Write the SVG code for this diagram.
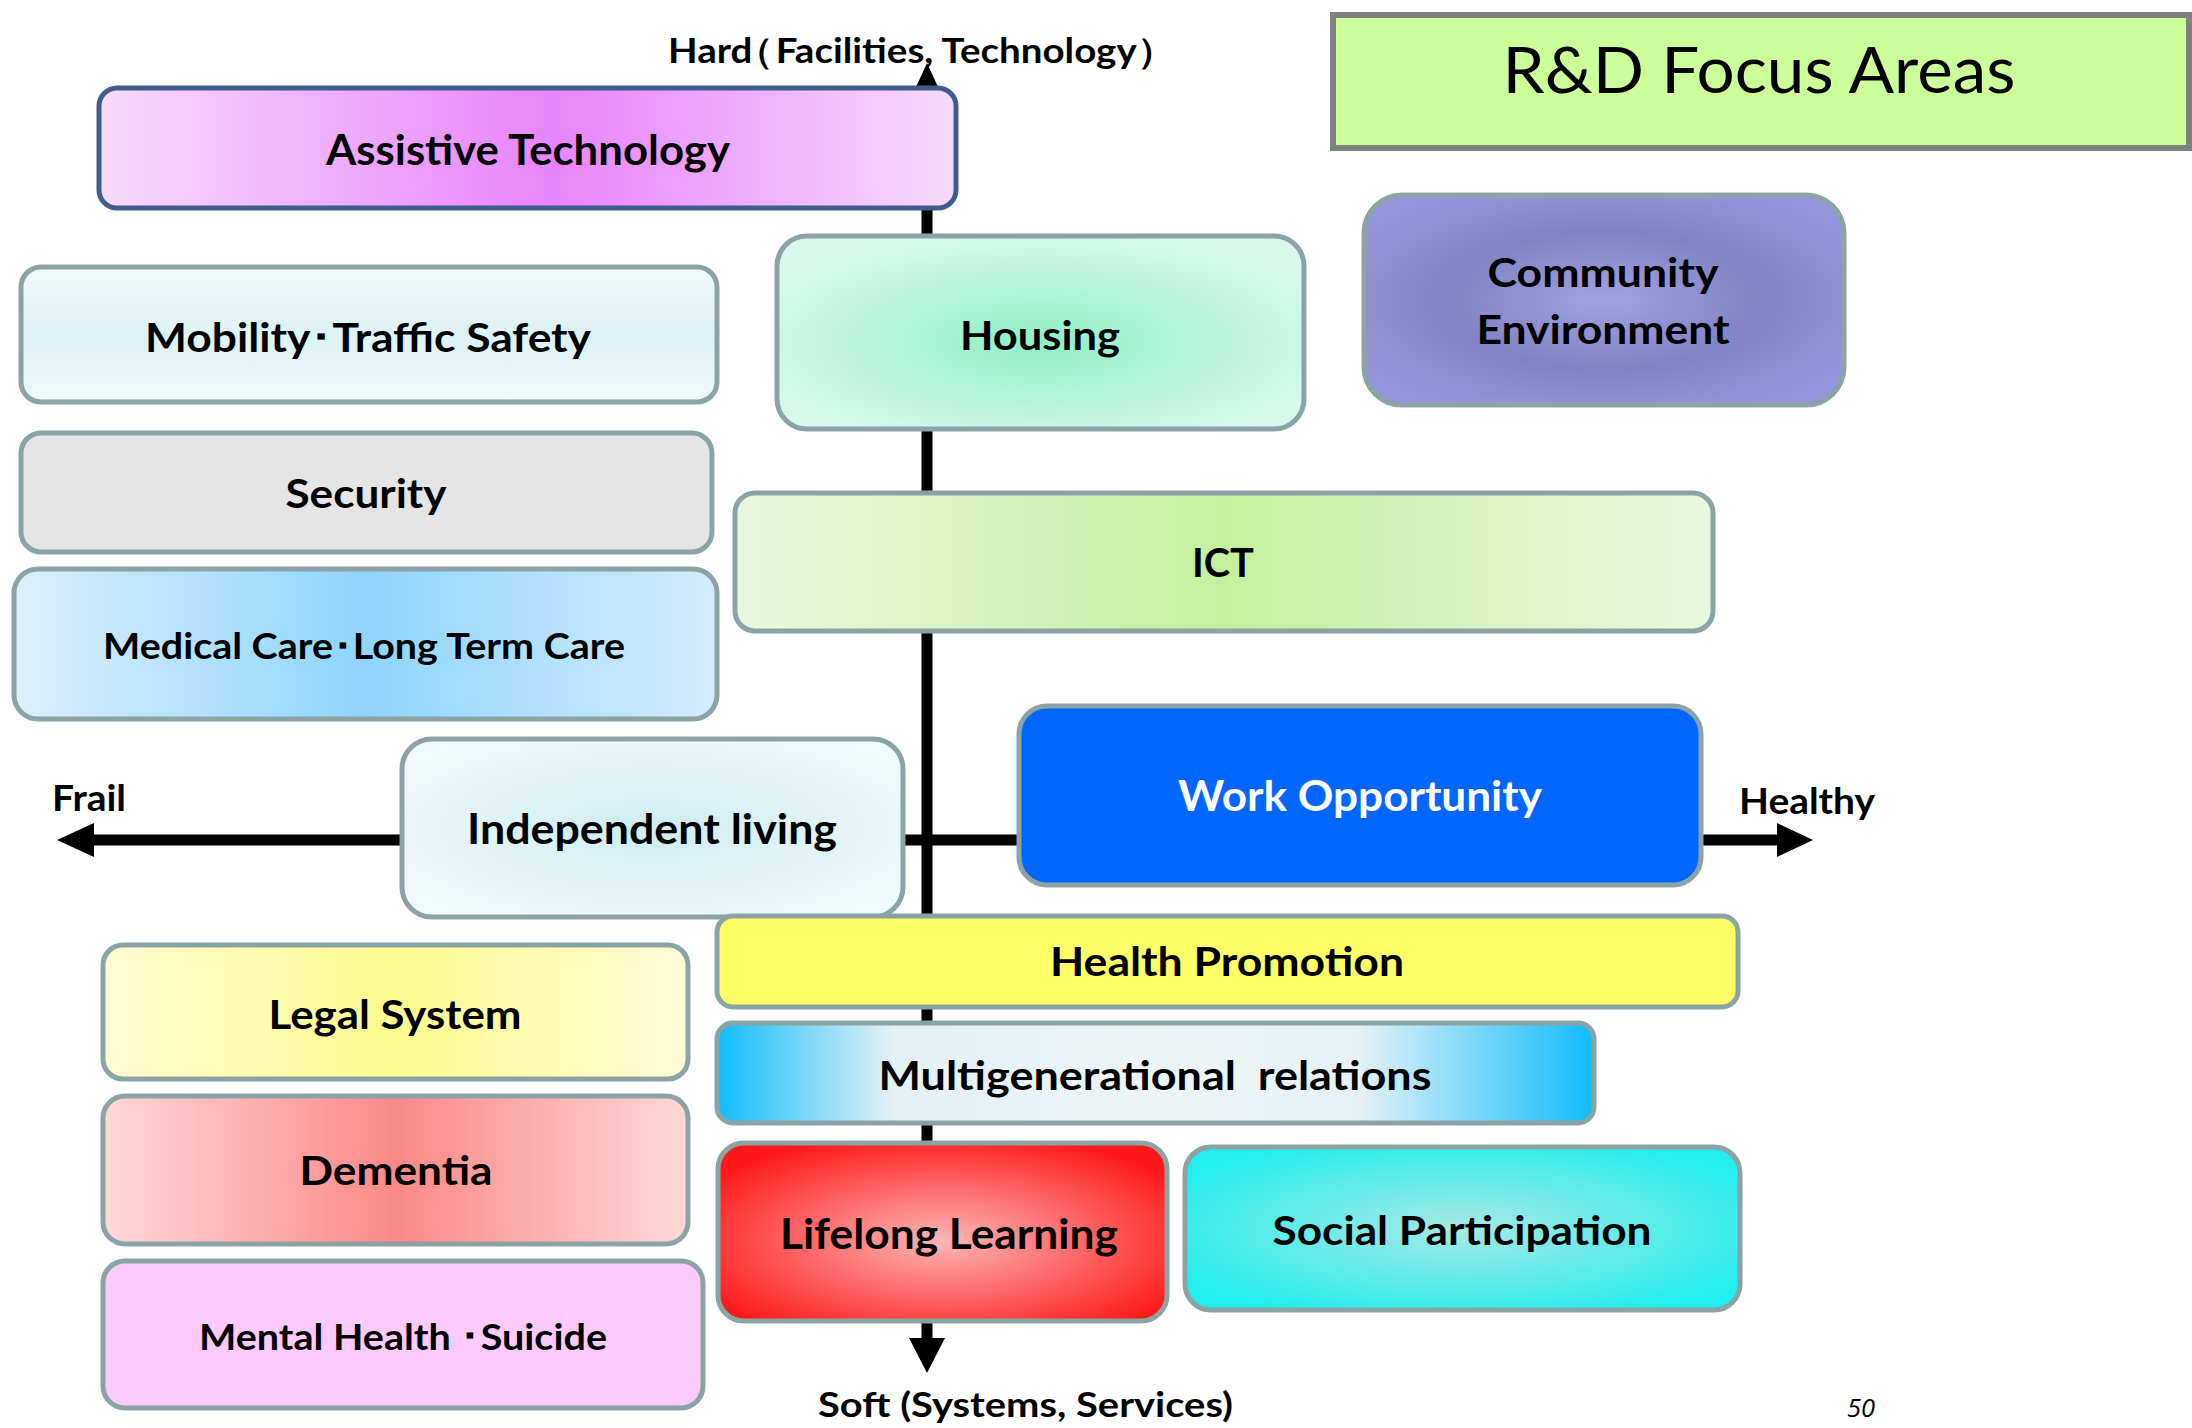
<svg xmlns="http://www.w3.org/2000/svg" width="2192" height="1428" viewBox="0 0 2192 1428">
<style>
.box{stroke:#8BA3A5;stroke-width:5}
.lbl{font-family:Lato,"Open Sans","Liberation Sans",sans-serif;font-weight:700;fill:#000;text-anchor:middle}
.ax{font-family:Lato,"Open Sans","Liberation Sans",sans-serif;font-weight:700;fill:#000}
.axis{stroke:#000;stroke-width:11;fill:none}
</style>
<defs>
<linearGradient id="gAssist" x1="0" y1="0" x2="1" y2="0"><stop offset="0" stop-color="#F7DAFC"/><stop offset="0.53" stop-color="#E884FB"/><stop offset="1" stop-color="#F7DAFC"/></linearGradient>
<linearGradient id="gMob" x1="0" y1="0" x2="0" y2="1"><stop offset="0" stop-color="#F0F9F9"/><stop offset="0.5" stop-color="#DDF3F5"/><stop offset="1" stop-color="#F0F9F9"/></linearGradient>
<radialGradient id="gHouse" cx="0.5" cy="0.55" r="0.6"><stop offset="0" stop-color="#8FEFC8"/><stop offset="1" stop-color="#D9F8EC"/></radialGradient>
<radialGradient id="gComm" cx="0.5" cy="0.5" r="0.6"><stop offset="0" stop-color="#A2A2E0"/><stop offset="0.55" stop-color="#8282C4"/><stop offset="1" stop-color="#9595DC"/></radialGradient>
<linearGradient id="gICT" x1="0" y1="0" x2="1" y2="0"><stop offset="0" stop-color="#E8F8DE"/><stop offset="0.5" stop-color="#C4F09E"/><stop offset="1" stop-color="#E9F8E0"/></linearGradient>
<linearGradient id="gMed" x1="0" y1="0" x2="1" y2="0"><stop offset="0" stop-color="#DCEFFC"/><stop offset="0.5" stop-color="#8FD5FD"/><stop offset="1" stop-color="#D5ECFD"/></linearGradient>
<radialGradient id="gIndep" cx="0.5" cy="0.5" r="0.6"><stop offset="0" stop-color="#CDEDEF"/><stop offset="1" stop-color="#F0F9FA"/></radialGradient>
<linearGradient id="gMulti" x1="0" y1="0" x2="1" y2="0"><stop offset="0" stop-color="#10BCFC"/><stop offset="0.2" stop-color="#E4F1F5"/><stop offset="0.5" stop-color="#EEF4F6"/><stop offset="0.73" stop-color="#E6F2F6"/><stop offset="1" stop-color="#10BCFC"/></linearGradient>
<radialGradient id="gLife" cx="0.5" cy="0.55" r="0.62"><stop offset="0" stop-color="#FCB6B6"/><stop offset="1" stop-color="#FF1818"/></radialGradient>
<radialGradient id="gSocial" cx="0.5" cy="0.5" r="0.6"><stop offset="0" stop-color="#A8E8E4"/><stop offset="1" stop-color="#22EEEE"/></radialGradient>
<linearGradient id="gLegal" x1="0" y1="0" x2="1" y2="0"><stop offset="0" stop-color="#FFFDD2"/><stop offset="0.5" stop-color="#FCFB8E"/><stop offset="1" stop-color="#FFFDD6"/></linearGradient>
<linearGradient id="gDem" x1="0" y1="0" x2="1" y2="0"><stop offset="0" stop-color="#FFD8D8"/><stop offset="0.5" stop-color="#FC8888"/><stop offset="1" stop-color="#FFD8D8"/></linearGradient>
</defs>
<rect x="0" y="0" width="2192" height="1428" fill="#FFFFFF"/>

<g id="connectors">
<line class="axis" x1="927" y1="95" x2="927" y2="1342"/>
<polygon points="927,63 910,100 944,100" fill="#000"/>
<polygon points="927,1373 909,1338 945,1338" fill="#000"/>
<line class="axis" x1="92" y1="840" x2="1780" y2="840"/>
<polygon points="57,840 94,823 94,857" fill="#000"/>
<polygon points="1813,840 1777,823 1777,857" fill="#000"/>
</g>

<g id="title">
<rect x="1333" y="15" width="856" height="133" fill="#CCFF99" stroke="#808080" stroke-width="6"/>
<text x="1759" y="93" font-family="Lato,'Open Sans','Liberation Sans',sans-serif" font-size="64" text-anchor="middle" textLength="513" lengthAdjust="spacingAndGlyphs">R&amp;D Focus Areas</text>
</g>

<g id="axis-labels">
<text class="ax" transform="translate(668,63) scale(1.1,1)" x="0" y="0" font-size="35">Hard<tspan dx="-16">（</tspan><tspan dx="2">Facilities, Technology）</tspan></text>
<text class="ax" x="52" y="811" font-size="36" textLength="74" lengthAdjust="spacingAndGlyphs">Frail</text>
<text class="ax" x="1739" y="814" font-size="36" textLength="136" lengthAdjust="spacingAndGlyphs">Healthy</text>
<text class="ax" x="818" y="1417" font-size="35" textLength="415" lengthAdjust="spacingAndGlyphs">Soft (Systems, Services)</text>
<text x="1847" y="1417" font-family="'Open Sans','Liberation Sans',sans-serif" font-size="25" font-style="italic" textLength="28" lengthAdjust="spacingAndGlyphs">50</text>
</g>

<g id="assistive-technology">
<rect x="99" y="88" width="857" height="120" rx="18" fill="url(#gAssist)" stroke="#3E5C8C" stroke-width="5"/>
<text class="lbl" x="528" y="165" font-size="42" textLength="404" lengthAdjust="spacingAndGlyphs">Assistive Technology</text>
</g>

<g id="mobility">
<rect class="box" x="21" y="267" width="696" height="135" rx="20" fill="url(#gMob)"/>
<text class="lbl" x="368" y="352" font-size="40" textLength="446" lengthAdjust="spacingAndGlyphs">Mobility･Traffic Safety</text>
</g>

<g id="housing">
<rect class="box" x="777" y="236" width="527" height="193" rx="30" fill="url(#gHouse)"/>
<text class="lbl" x="1040" y="350" font-size="41" textLength="160" lengthAdjust="spacingAndGlyphs">Housing</text>
</g>

<g id="community-environment">
<rect class="box" x="1364" y="195" width="480" height="210" rx="38" fill="url(#gComm)"/>
<text class="lbl" x="1603" y="287" font-size="41" textLength="231" lengthAdjust="spacingAndGlyphs">Community</text>
<text class="lbl" x="1603" y="344" font-size="41" textLength="253" lengthAdjust="spacingAndGlyphs">Environment</text>
</g>

<g id="security">
<rect class="box" x="21" y="433" width="691" height="119" rx="20" fill="#E5E5E5"/>
<text class="lbl" x="366" y="508" font-size="41" textLength="161" lengthAdjust="spacingAndGlyphs">Security</text>
</g>

<g id="ict">
<rect class="box" x="735" y="493" width="978" height="138" rx="20" fill="url(#gICT)"/>
<text class="lbl" x="1223" y="577" font-size="41" textLength="62" lengthAdjust="spacingAndGlyphs">ICT</text>
</g>

<g id="medical-care">
<rect class="box" x="14" y="569" width="703" height="150" rx="24" fill="url(#gMed)"/>
<text class="lbl" x="364" y="659" font-size="36" textLength="522" lengthAdjust="spacingAndGlyphs">Medical Care･Long Term Care</text>
</g>

<g id="independent-living">
<rect class="box" x="402" y="739" width="501" height="178" rx="30" fill="url(#gIndep)"/>
<text class="lbl" x="652" y="844" font-size="42" textLength="370" lengthAdjust="spacingAndGlyphs">Independent living</text>
</g>

<g id="work-opportunity">
<rect class="box" x="1019" y="706" width="682" height="179" rx="28" fill="#0066FF"/>
<text class="lbl" x="1360" y="811" font-size="42" style="fill:#FFFFFF" textLength="364" lengthAdjust="spacingAndGlyphs">Work Opportunity</text>
</g>

<g id="health-promotion">
<rect class="box" x="717" y="916" width="1021" height="91" rx="16" fill="#FFFF66"/>
<text class="lbl" x="1227" y="976" font-size="40" textLength="354" lengthAdjust="spacingAndGlyphs">Health Promotion</text>
</g>

<g id="multigenerational-relations">
<rect class="box" x="717" y="1023" width="877" height="100" rx="16" fill="url(#gMulti)"/>
<text class="lbl" x="1155" y="1090" font-size="41" textLength="553" lengthAdjust="spacingAndGlyphs" xml:space="preserve">Multigenerational  relations</text>
</g>

<g id="lifelong-learning">
<rect class="box" x="718" y="1143" width="449" height="178" rx="26" fill="url(#gLife)"/>
<text class="lbl" x="949" y="1249" font-size="42" textLength="338" lengthAdjust="spacingAndGlyphs">Lifelong Learning</text>
</g>

<g id="social-participation">
<rect class="box" x="1185" y="1147" width="555" height="163" rx="26" fill="url(#gSocial)"/>
<text class="lbl" x="1462" y="1245" font-size="40" textLength="379" lengthAdjust="spacingAndGlyphs">Social Participation</text>
</g>

<g id="legal-system">
<rect class="box" x="103" y="945" width="585" height="134" rx="20" fill="url(#gLegal)"/>
<text class="lbl" x="395" y="1029" font-size="41" textLength="253" lengthAdjust="spacingAndGlyphs">Legal System</text>
</g>

<g id="dementia">
<rect class="box" x="103" y="1096" width="585" height="148" rx="22" fill="url(#gDem)"/>
<text class="lbl" x="396" y="1185" font-size="41" textLength="193" lengthAdjust="spacingAndGlyphs">Dementia</text>
</g>

<g id="mental-health">
<rect class="box" x="103" y="1261" width="600" height="147" rx="22" fill="#FCCBFC"/>
<text class="lbl" x="403" y="1350" font-size="37" textLength="408" lengthAdjust="spacingAndGlyphs" xml:space="preserve">Mental Health ･Suicide</text>
</g>
</svg>
